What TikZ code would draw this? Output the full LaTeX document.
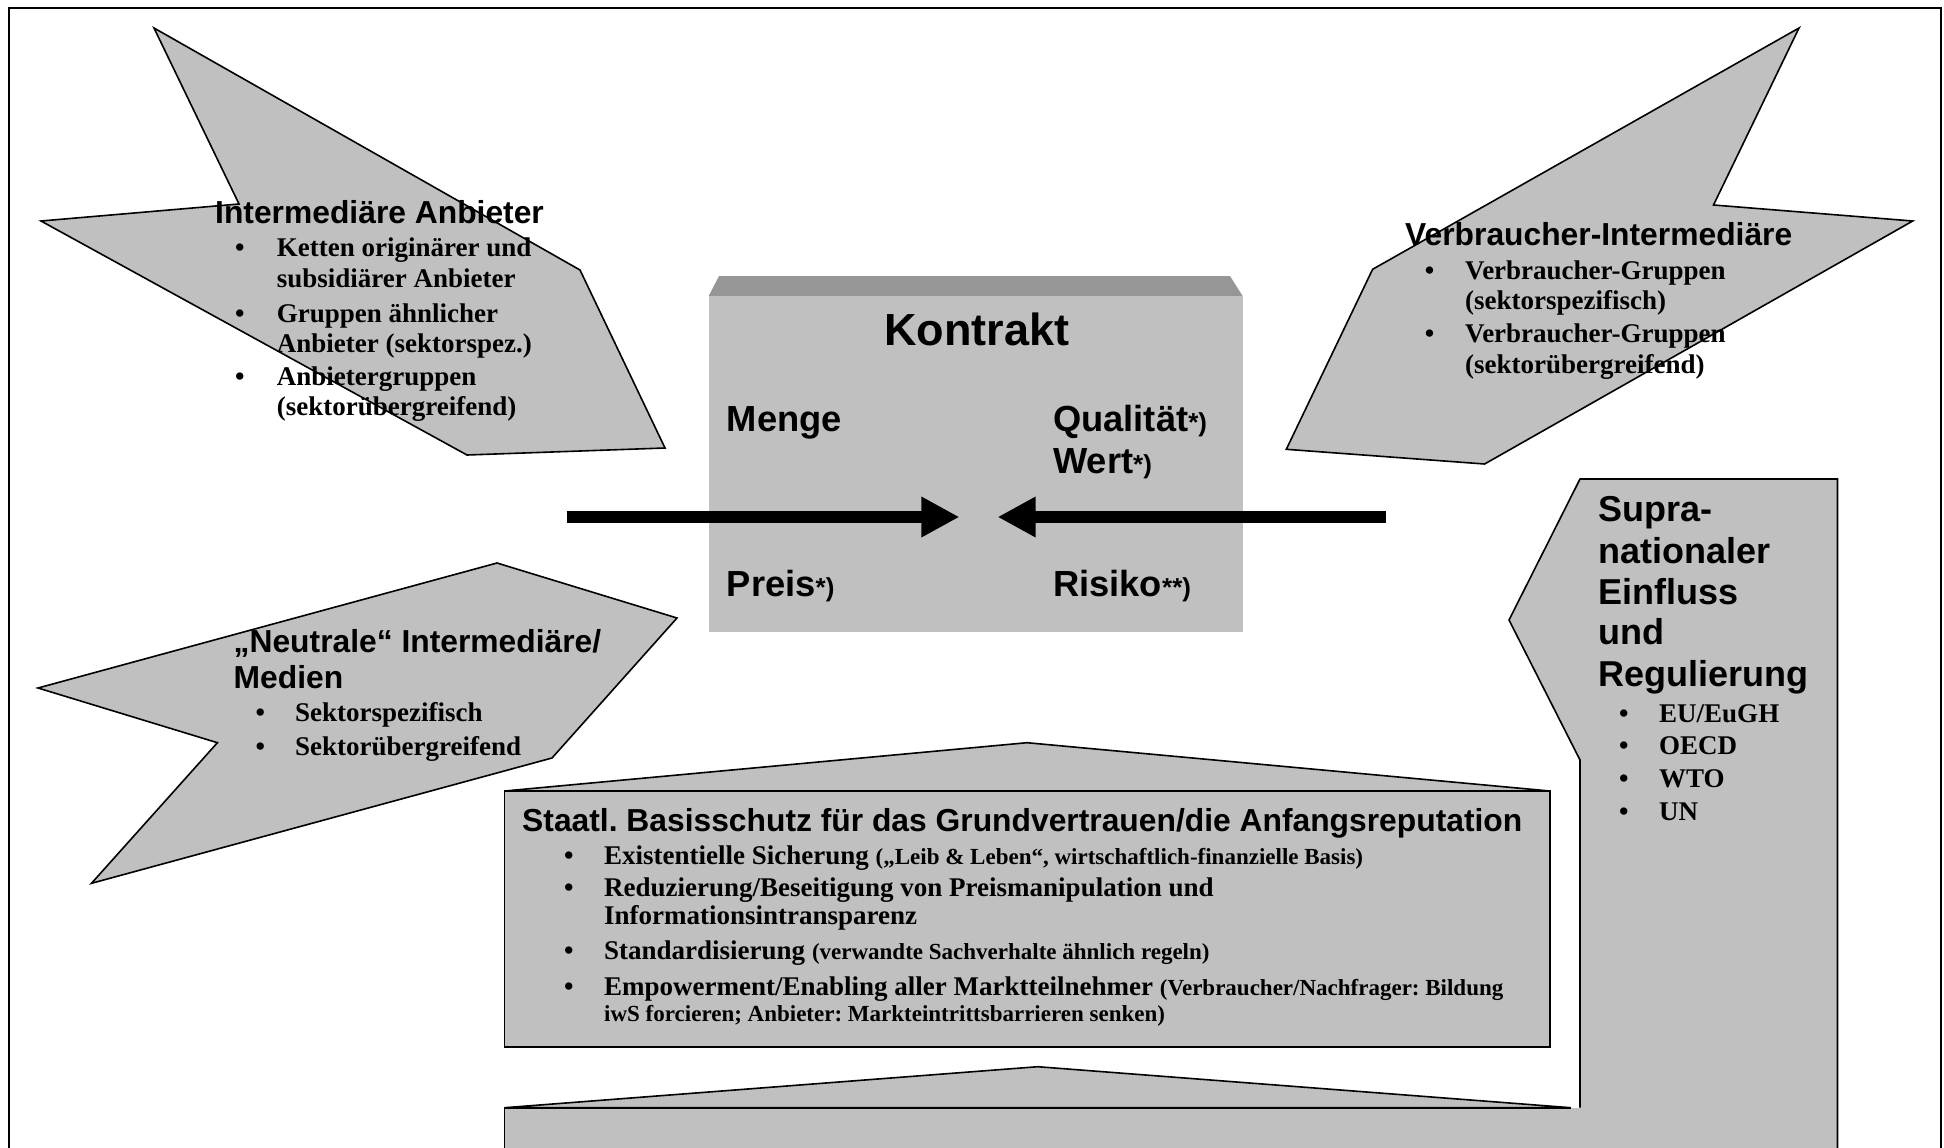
\documentclass[tikz,border=0pt]{standalone}
\usepackage{fontspec}
\setmainfont{Liberation Serif}
\newfontfamily\headfont{Liberation Sans}
\usetikzlibrary{arrows.meta}
\frenchspacing
\definecolor{panelgrey}{HTML}{C0C0C0}
\definecolor{bevelgrey}{HTML}{969696}
\tikzset{
  panel/.style={fill=panelgrey, draw=black, line width=1.6pt, line join=miter},
  outline/.style={draw=black, line width=1.6pt, line join=miter},
  headtxt/.style={anchor=base west, inner sep=0pt, font=\headfont\bfseries\fontsize{31.8}{36}\selectfont},
  supratxt/.style={anchor=base west, inner sep=0pt, font=\headfont\bfseries\fontsize{36}{41}\selectfont},
  listtxt/.style={anchor=base west, inner sep=0pt, font=\bfseries\fontsize{27}{31}\selectfont},
  dottxt/.style={listtxt},
  termtxt/.style={anchor=base west, inner sep=0pt, font=\headfont\bfseries\fontsize{36.3}{40}\selectfont},
  flow/.style={line width=12.5pt, -{Triangle[length=38pt,width=38pt]}},
}
\newcommand{\smallpart}[1]{{\fontsize{23}{26}\selectfont #1}}
\newcommand{\starnote}[1]{{\fontsize{26}{28}\selectfont #1}}

\begin{document}
\begin{tikzpicture}[x=1pt,y=-1pt]
\useasboundingbox (0,0) rectangle (1944,1148);
\begin{scope}
\clip (0,0) rectangle (1944,1148);

% outer frame
\draw[line width=2pt] (9,8) rectangle (1941,1180);

% three arrow-shaped panels
\draw[panel] (154,28) -- (580,270) -- (665,448) -- (467,455) -- (41,221) -- (239,204) -- cycle;
\draw[panel] (1799,28) -- (1713.5,205) -- (1912.7,221) -- (1484.6,464) -- (1286.3,449.3) -- (1372.6,269.3) -- cycle;
\draw[panel] (497,563) -- (677,618) -- (552,758) -- (91.5,883.3) -- (217.4,742.7) -- (38,688) -- cycle;

% contract block with bevelled top
\fill[bevelgrey] (708.7,296) -- (719,276) -- (1230,276) -- (1242.6,296) -- cycle;
\fill[panelgrey] (708.7,296) rectangle (1242.6,631.7);

% house: state protection
\draw[panel] (504.6,791) -- (1027,742.7) -- (1549.8,791) -- cycle;
\draw[panel] (504.6,791) rectangle (1549.8,1046.7);

% lower house merged with the supranational column
\fill[panelgrey] (504.6,1107.7) rectangle (1837.5,1200);
\fill[panelgrey] (1580,1107.7) -- (1580,760) -- (1509,620) -- (1580,479) -- (1837.5,479) -- (1837.5,1200) -- (1580,1200) -- cycle;
\draw[panel] (504.6,1107.7) -- (1037.7,1066.7) -- (1570.7,1107.7) -- cycle;
\draw[outline] (504.6,1200) -- (504.6,1107.7) -- (1570.7,1107.7);
\draw[outline] (1580,1107.7) -- (1580,760) -- (1509,620) -- (1580,479) -- (1837.5,479) -- (1837.5,1200);

% contract contents
\node[anchor=base, inner sep=0pt, font=\headfont\bfseries\fontsize{45}{50}\selectfont] (kontrakt) at (976.6,345) {Kontrakt};
\node[termtxt] (menge) at (726.7,431.7) {Menge};
\node[termtxt] (qual) at (1053,431.7) {Qualität\starnote{*)}};
\node[termtxt] (wert) at (1053,473.3) {Wert\starnote{*)}};
\node[termtxt] (preis) at (726.7,596.7) {Preis\starnote{*)}};
\node[termtxt] (risiko) at (1053,596.7) {Risiko\starnote{**)}};

\coordinate (lfrom) at (566.6,517);
\coordinate (lto) at (959.4,517);
\coordinate (rfrom) at (1386,517);
\coordinate (rto) at (997.6,517);
\draw[flow] (lfrom) -- (lto);
\draw[flow] (rfrom) -- (rto);

% intermediary suppliers
\node[headtxt] (anbH) at (215,223.3) {Intermediäre Anbieter};
\node[dottxt] (anbD1) at (235,256.5) {•};
\node[listtxt] (anb1) at (276.7,256.5) {Ketten originärer und};
\node[listtxt] (anb1b) at (276.7,287.5) {subsidiärer Anbieter};
\node[dottxt] (anbD2) at (235,322) {•};
\node[listtxt] (anb2) at (276.7,322) {Gruppen ähnlicher};
\node[listtxt] (anb2b) at (276.7,352.5) {Anbieter (sektorspez.)};
\node[dottxt] (anbD3) at (235,385) {•};
\node[listtxt] (anb3) at (276.7,385) {Anbietergruppen};
\node[listtxt] (anb3b) at (276.7,415.5) {(sektorübergreifend)};

% consumer intermediaries
\node[headtxt] (verH) at (1405,245) {Verbraucher-Intermediäre};
\node[dottxt] (verD1) at (1424.6,279) {•};
\node[listtxt] (ver1) at (1465,279) {Verbraucher-Gruppen};
\node[listtxt] (ver1b) at (1465,309.5) {(sektorspezifisch)};
\node[dottxt] (verD2) at (1424.6,342.7) {•};
\node[listtxt] (ver2) at (1465,342.7) {Verbraucher-Gruppen};
\node[listtxt] (ver2b) at (1465,373) {(sektorübergreifend)};

% neutral intermediaries
\node[headtxt] (neuH) at (233.5,652) {„Neutrale“ Intermediäre/};
\node[headtxt] (neuH2) at (233.5,688) {Medien};
\node[dottxt] (neuD1) at (255.3,721.5) {•};
\node[listtxt] (neu1) at (295,721.5) {Sektorspezifisch};
\node[dottxt] (neuD2) at (255.3,755) {•};
\node[listtxt] (neu2) at (295,755) {Sektorübergreifend};

% supranational influence
\node[supratxt] (supH1) at (1598,521) {Supra-};
\node[supratxt] (supH2) at (1598,563) {nationaler};
\node[supratxt] (supH3) at (1598,604.5) {Einfluss};
\node[supratxt] (supH4) at (1598,644.5) {und};
\node[supratxt] (supH5) at (1598,686) {Regulierung};
\node[dottxt] (supD1) at (1619,722) {•};
\node[listtxt] (sup1) at (1659,722) {EU/EuGH};
\node[dottxt] (supD2) at (1619,754) {•};
\node[listtxt] (sup2) at (1659,754) {OECD};
\node[dottxt] (supD3) at (1619,787) {•};
\node[listtxt] (sup3) at (1659,787) {WTO};
\node[dottxt] (supD4) at (1619,820.5) {•};
\node[listtxt] (sup4) at (1659,820.5) {UN};

% state basic protection
\node[headtxt] (staH) at (522,831) {Staatl. Basisschutz für das Grundvertrauen/die Anfangsreputation};
\node[dottxt] (staD1) at (564,864) {•};
\node[listtxt] (sta1) at (604,864) {Existentielle Sicherung \smallpart{(„Leib \& Leben“, wirtschaftlich-finanzielle Basis)}};
\node[dottxt] (staD2) at (564,896.5) {•};
\node[listtxt] (sta2) at (604,896.5) {Reduzierung/Beseitigung von Preismanipulation und};
\node[listtxt] (sta2b) at (604,924) {Informationsintransparenz};
\node[dottxt] (staD3) at (564,959.5) {•};
\node[listtxt] (sta3) at (604,959.5) {Standardisierung \smallpart{(verwandte Sachverhalte ähnlich regeln)}};
\node[dottxt] (staD4) at (564,995) {•};
\node[listtxt] (sta4) at (604,995) {Empowerment/Enabling aller Marktteilnehmer \smallpart{(Verbraucher/Nachfrager: Bildung}};
\node[listtxt] (sta4b) at (604,1021) {\smallpart{iwS forcieren; Anbieter: Markteintrittsbarrieren senken)}};
\end{scope}
\end{tikzpicture}
\end{document}
